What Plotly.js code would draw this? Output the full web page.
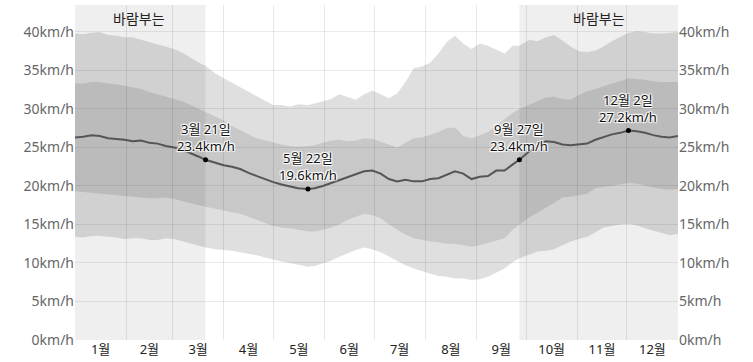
<!DOCTYPE html>
<html>
<head>
<meta charset="utf-8">
<script src="https://cdn.plot.ly/plotly-3.0.1.min.js"></script>
<style>
html,body{margin:0;padding:0;background:#fff;}
#chart{width:753px;height:362px;}
</style>
</head>
<body>
<div id="chart"></div>
<script>
// Day of year (0 = 1월 1일)
const days = [0,5,10,15,20,25,30,35,40,45,50,55,60,65,70,75,
  79,
  85,90,95,100,105,110,115,120,125,130,135,
  141,
  145,150,155,160,165,170,175,180,185,190,195,200,205,210,215,220,225,230,235,240,245,250,255,260,265,
  269,
  275,280,285,290,295,300,305,310,315,320,325,330,
  335,
  340,345,350,355,360,
  365];

// 90th percentile wind speed (km/h)
const p90 = [39.8,39.7,39.9,40.0,39.6,39.5,39.3,39.3,39.0,38.7,38.4,38.1,37.8,37.3,36.6,36.0,
  35.6,
  34.6,34.0,33.4,32.9,32.3,31.6,31.0,30.5,30.5,30.3,30.6,
  30.5,
  30.7,31.0,31.3,31.9,31.6,31.2,31.9,32.4,31.9,31.4,32.0,33.5,35.3,35.5,36.0,37.2,38.7,39.5,38.5,37.8,38.5,38.2,37.7,37.2,38.2,
  38.2,
  39.0,38.8,39.3,39.6,38.9,38.1,37.5,37.4,37.6,38.1,38.8,39.3,
  39.9,
  40.1,40.0,39.8,39.8,39.9,
  40.0];

// 75th percentile
const p75 = [33.3,33.3,33.5,33.5,33.3,33.2,33.0,32.8,32.6,32.2,31.9,31.7,31.4,31.0,30.5,30.0,
  29.6,
  29.0,28.5,27.8,27.2,26.7,26.2,25.9,25.7,25.4,25.2,25.1,
  25.2,
  25.3,25.6,25.9,26.0,25.8,25.9,26.2,26.1,25.8,25.4,25.0,25.6,26.2,26.3,26.6,27.0,27.5,27.6,26.5,26.2,26.6,27.0,27.8,28.6,29.5,
  30.0,
  30.5,31.0,31.5,31.6,31.3,31.2,31.8,32.3,32.6,33.0,33.3,33.6,
  34.0,
  33.9,33.8,33.6,33.5,33.5,
  33.5];

// Median (mean) wind speed
const median = [26.3,26.4,26.6,26.5,26.2,26.1,26.0,25.8,25.9,25.6,25.5,25.2,25.0,24.7,24.3,23.8,
  23.4,
  23.0,22.7,22.5,22.2,21.7,21.3,20.8,20.5,20.2,19.9,19.7,
  19.6,
  19.7,20.0,20.4,20.8,21.2,21.5,21.9,22.0,21.6,20.9,20.6,20.8,20.6,20.6,20.9,21.0,21.4,21.9,21.6,20.9,21.2,21.3,22.0,22.0,22.8,
  23.4,
  24.5,25.2,25.8,25.7,25.4,25.3,25.4,25.5,26.0,26.4,26.7,26.9,
  27.2,
  27.1,26.9,26.6,26.4,26.3,
  26.5];

// 25th percentile
const p25 = [19.3,19.2,19.1,19.0,18.9,18.8,18.7,18.6,18.5,18.4,18.4,18.5,18.3,18.0,17.7,17.5,
  17.3,
  17.0,16.8,16.6,16.4,16.0,15.6,15.1,14.8,14.6,14.5,14.3,
  14.1,
  14.1,14.3,14.6,15.0,15.6,16.0,16.4,16.2,15.8,15.0,14.3,13.7,13.2,13.0,12.8,12.7,12.5,12.5,12.3,12.1,12.3,12.6,12.9,13.2,14.3,
  15.0,
  15.9,16.5,17.1,17.8,18.5,18.6,18.8,19.0,19.7,19.9,20.0,20.2,
  20.4,
  20.3,20.0,19.8,19.6,19.5,
  19.6];

// 10th percentile
const p10 = [13.4,13.3,13.5,13.5,13.4,13.3,13.1,13.2,13.2,13.0,13.0,13.2,13.1,12.8,12.5,12.2,
  12.0,
  11.8,11.7,11.6,11.4,11.2,11.0,10.7,10.4,10.2,10.0,9.8,
  9.5,
  9.6,9.9,10.3,10.8,11.3,11.7,12.0,11.8,11.4,10.8,10.2,9.7,9.3,8.9,8.6,8.3,8.2,8.0,8.0,7.8,7.9,8.2,8.7,9.3,10.1,
  10.6,
  11.1,11.5,11.6,11.8,12.3,12.8,13.1,13.4,14.0,14.6,14.8,15.0,
  15.1,
  14.9,14.5,14.2,13.8,13.6,
  13.8];

// Highlighted points
const markDays = [79, 141, 269, 335];
const markVals = [23.4, 19.6, 23.4, 27.2];
const markDates = ['3월 21일', '5월 22일', '9월 27일', '12월 2일'];

// Windy season (day ranges)
const windyStart = [0, 269];
const windyEnd = [79, 365];
const windyLabel = '바람부는';

const yTicks = [0,5,10,15,20,25,30,35,40];
const unit = 'km/h';
const yTickText = yTicks.map(v => v + unit);

function dayToDate(d){
  return new Date(Date.UTC(2023,0,1) + d*86400000).toISOString().slice(0,10);
}
const xs = days.map(dayToDate);

const FONT = '"Noto Sans", "Noto Sans CJK KR", sans-serif';
const halo = '1px 1px 1px #fff, -1px -1px 1px #fff, 1px -1px 1px #fff, -1px 1px 1px #fff, 0 0 2px #fff';

const traces = [
  {x: xs, y: p10, mode:'lines', line:{width:0}, hoverinfo:'skip', showlegend:false},
  {x: xs, y: p90, mode:'lines', line:{width:0}, fill:'tonexty', fillcolor:'rgba(0,0,0,0.125)', hoverinfo:'skip', showlegend:false},
  {x: xs, y: p25, mode:'lines', line:{width:0}, hoverinfo:'skip', showlegend:false},
  {x: xs, y: p75, mode:'lines', line:{width:0}, fill:'tonexty', fillcolor:'rgba(0,0,0,0.1)', hoverinfo:'skip', showlegend:false},
  {x: xs, y: median, mode:'lines', line:{color:'#555', width:2}, hoverinfo:'skip', showlegend:false},
  {x: markDays.map(dayToDate), y: markVals, mode:'markers', marker:{color:'#000', size:5}, hoverinfo:'skip', showlegend:false},
  {x: xs, y: median, yaxis:'y2', mode:'none', hoverinfo:'skip', showlegend:false}
];

const shapes = windyStart.map((s,i)=>({
  type:'rect', xref:'x', yref:'paper', x0: dayToDate(s), x1: dayToDate(windyEnd[i]), y0:0, y1:1,
  fillcolor:'#efefef', line:{width:0}, layer:'below'
}));

const annotations = [];
windyStart.forEach((s,i)=>{
  annotations.push({
    xref:'x', yref:'paper', x: dayToDate((s+windyEnd[i])/2), y: 0.961,
    text: windyLabel, showarrow:false, xanchor:'center', yanchor:'middle',
    font:{family:FONT, size:14, color:'#222'}
  });
});
markDays.forEach((d,i)=>{
  annotations.push({
    xref:'x', yref:'y', x: dayToDate(d), y: markVals[i],
    text: markDates[i] + '<br>' + markVals[i].toFixed(1) + unit,
    showarrow:false, xanchor:'center', yanchor:'bottom', yshift:3,
    font:{family:FONT, size:13, color:'#111', shadow: halo}
  });
});

const yCommon = {
  range:[0, 43.5], tickmode:'array', tickvals:yTicks, ticktext:yTickText,
  tickfont:{family:FONT, size:14, color:'#666'}, zeroline:false, ticks:'', fixedrange:true
};

const layout = {
  width:753, height:362,
  margin:{l:75, r:75, t:5, b:22, pad:0},
  paper_bgcolor:'#fff', plot_bgcolor:'rgba(0,0,0,0)',
  font:{family:FONT},
  showlegend:false,
  hovermode:false,
  xaxis:{
    type:'date', range:[dayToDate(0), dayToDate(365)],
    dtick:'M1', tick0:dayToDate(0), tickformat:'%-m월', ticklabelmode:'period',
    showgrid:true, gridcolor:'rgba(0,0,0,0.09)', gridwidth:1,
    ticks:'',
    tickfont:{family:FONT, size:13, color:'#222'},
    zeroline:false, showline:false, fixedrange:true
  },
  yaxis: Object.assign({}, yCommon, {side:'left', showgrid:true, gridcolor:'rgba(0,0,0,0.08)'}),
  yaxis2: Object.assign({}, yCommon, {side:'right', overlaying:'y', showgrid:false}),
  shapes: shapes,
  annotations: annotations
};

Plotly.newPlot('chart', traces, layout, {displayModeBar:false, staticPlot:true});
</script>
</body>
</html>
